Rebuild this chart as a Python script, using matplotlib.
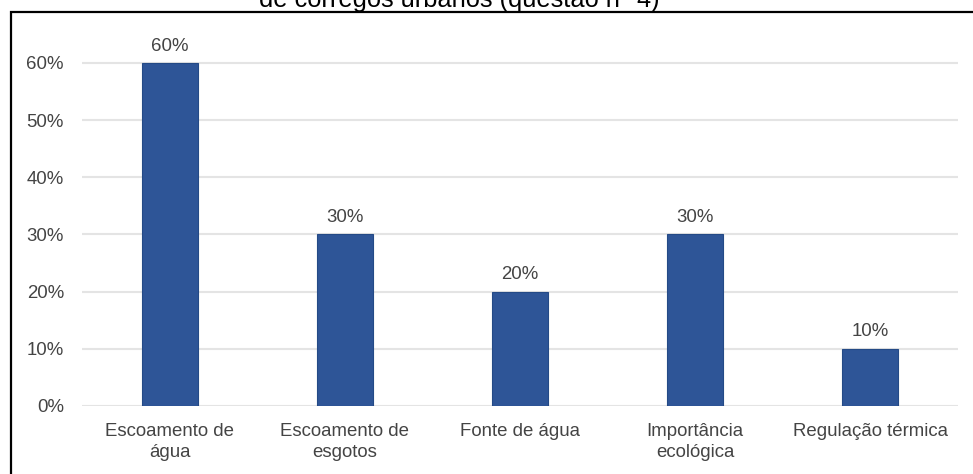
import matplotlib
matplotlib.use("Agg")
import matplotlib.pyplot as plt
from matplotlib.patches import Rectangle
from matplotlib.ticker import FixedLocator, FuncFormatter

plt.rcParams['font.family'] = ['Liberation Sans', 'DejaVu Sans']

categories = ["Escoamento de\nágua", "Escoamento de\nesgotos", "Fonte de água",
              "Importância\necológica", "Regulação térmica"]
values = [0.60, 0.30, 0.20, 0.30, 0.10]
yticks = [0.0, 0.1, 0.2, 0.3, 0.4, 0.5, 0.6]
title = "de córregos urbanos (questão n° 4)"

text_color = "#444444"
bar_color = "#2E5597"
grid_color = "#E4E4E4"

W, H = 973, 474
fig = plt.figure(figsize=(W / 100, H / 100), dpi=100)
fig.patch.set_facecolor("white")

ax = fig.add_axes([82 / W, (H - 406) / H, 876 / W, (406 - 34.4) / H])
x = range(len(categories))
ax.bar(x, values, width=0.32, color=bar_color, edgecolor="#244A86",
       linewidth=0.8, zorder=3)

for xi, v in zip(x, values):
    ax.annotate(f"{v:.0%}", (xi, v), xytext=(0, 6), textcoords="offset points",
                ha="center", va="bottom", fontsize=13.4, color=text_color)

ax.set_xlim(-0.5, len(categories) - 0.5)
ax.set_ylim(0, 0.65)
ax.yaxis.set_major_locator(FixedLocator(yticks))
ax.yaxis.set_major_formatter(FuncFormatter(lambda v, p: f"{v:.0%}"))
ax.set_xticks(list(x))
ax.set_xticklabels(categories)
ax.grid(axis="y", color=grid_color, linewidth=1.5, zorder=0)
ax.tick_params(axis="both", length=0, labelsize=13.4, labelcolor=text_color)
ax.tick_params(axis="y", pad=13)
ax.tick_params(axis="x", pad=12)
for lbl in ax.get_xticklabels():
    lbl.set_linespacing(1.3)
for s in ax.spines.values():
    s.set_visible(False)

# outer frame around the chart
fig.patches.append(Rectangle((11 / W, -0.2), 1.1, (H - 12) / H + 0.2,
                             transform=fig.transFigure, fill=False,
                             edgecolor="black", linewidth=1.6, zorder=10))

fig.text(459 / W, (H - 7) / H, title, ha="center", va="baseline",
         fontsize=18.3, color="black")

fig.savefig("out.png", dpi=100)
